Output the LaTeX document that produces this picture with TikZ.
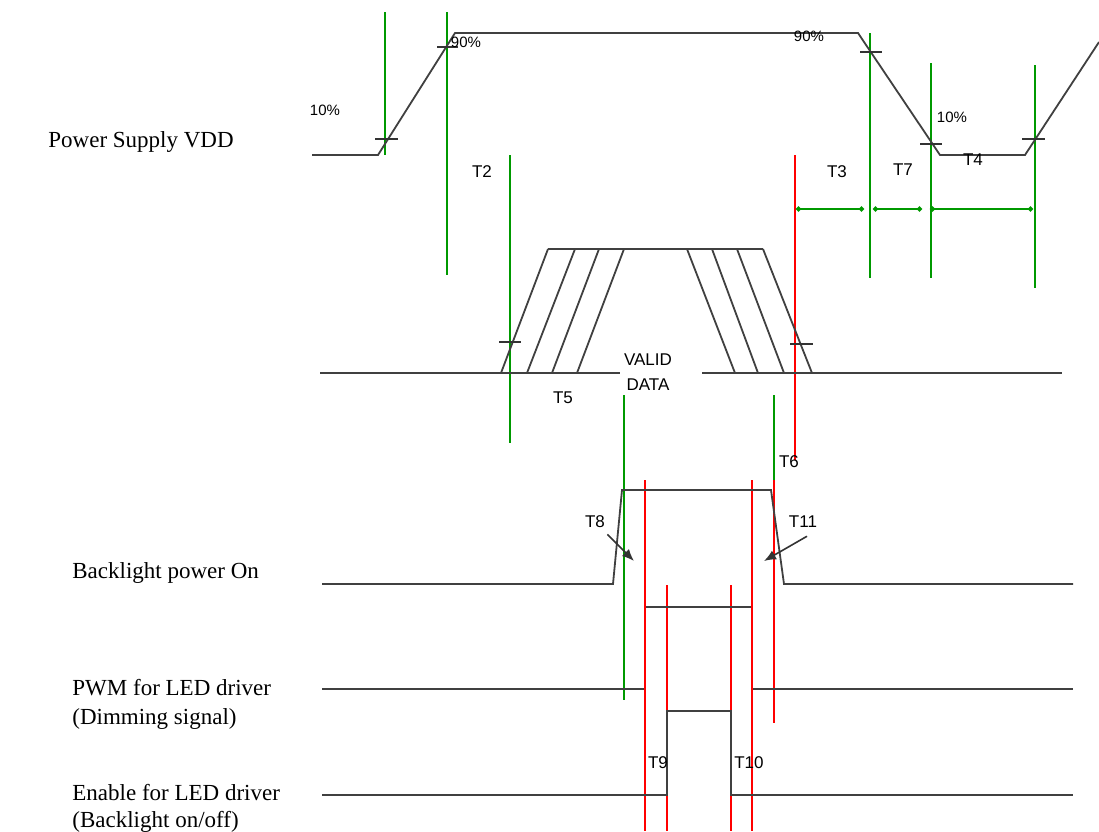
\documentclass[tikz,border=0pt]{standalone}
\usepackage{fontspec}
\setmainfont{Liberation Serif}
\setsansfont{Liberation Sans}
\usetikzlibrary{arrows.meta}

\tikzset{
	wave/.style={black!75,line width=0.9pt},
	grn/.style={green!60!black,line width=0.9pt},
	rd/.style={red,line width=0.8pt},
	tickmark/.style={black!80,line width=0.8pt},
	sig/.style={anchor=west,inner sep=0pt,font=\fontsize{11.5}{14}\selectfont},
	tlbl/.style={inner sep=0pt,font=\sffamily\fontsize{8.5}{10}\selectfont},
	pct/.style={inner sep=0pt,font=\sffamily\fontsize{7.5}{9}\selectfont}
}

\begin{document}
\begin{tikzpicture}[x=0.5pt,y=-0.5pt]

	\useasboundingbox (0,0) rectangle (1099,831);

	% signal names
	\node[sig] (vdd) at (48,142) {Power Supply VDD};
	\node[sig] (blon) at (72,573) {Backlight power On};
	\node[sig] (pwm) at (72,688) {PWM for LED driver};
	\node[sig] (pwm2) at (72,719) {(Dimming signal)};
	\node[sig] (en) at (72,793) {Enable for LED driver};
	\node[sig] (en2) at (72,822) {(Backlight on/off)};

	% green timing marks
	\draw[grn] (385,12) -- (385,155);
	\draw[grn] (447,12) -- (447,275);
	\draw[grn] (510,155) -- (510,443);
	\draw[grn] (870,33) -- (870,278);
	\draw[grn] (931,63) -- (931,278);
	\draw[grn] (1035,65) -- (1035,288);
	\draw[grn] (624,395) -- (624,700);
	\draw[grn] (774,395) -- (774,480);

	% red timing marks
	\draw[rd] (795,155) -- (795,460);
	\draw[rd] (774,480) -- (774,723);
	\draw[rd] (645,480) -- (645,831);
	\draw[rd] (667,585) -- (667,831);
	\draw[rd] (731,585) -- (731,831);
	\draw[rd] (752,480) -- (752,831);

	% power supply VDD
	\draw[wave] (312,155) -- (378,155) -- (455,33) -- (858,33) -- (940,155) -- (1025,155) -- (1099,42);
	\draw[tickmark] (375,139) -- (398,139);
	\draw[tickmark] (437,47) -- (458,47);
	\draw[tickmark] (860,52) -- (882,52);
	\draw[tickmark] (920,144) -- (942,144);
	\draw[tickmark] (1022,139) -- (1045,139);

	\node[pct] (p10a) at (325,110) {10\%};
	\node[pct] (p90a) at (466,42) {90\%};
	\node[pct] (p90b) at (809,36) {90\%};
	\node[pct] (p10b) at (952,117) {10\%};

	% T3, T7, T4
	\draw[grn,{Circle[length=2.5pt]}-{Circle[length=2.5pt]}] (796,209) -- (864,209);
	\draw[grn,{Circle[length=2.5pt]}-{Circle[length=2.5pt]}] (873,209) -- (922,209);
	\draw[grn,{Circle[length=2.5pt]}-{Circle[length=2.5pt]}] (930,209) -- (1033,209);

	\node[tlbl] (t2) at (482,172) {T2};
	\node[tlbl] (t3) at (837,172) {T3};
	\node[tlbl] (t7) at (903,170) {T7};
	\node[tlbl] (t4) at (973,160) {T4};

	% data
	\draw[wave] (320,373) -- (620,373);
	\draw[wave] (702,373) -- (1062,373);
	\draw[wave] (548,249) -- (763,249);
	\draw[wave] (501,373) -- (548,249);
	\draw[wave] (527,373) -- (575,249);
	\draw[wave] (552,373) -- (599,249);
	\draw[wave] (577,373) -- (624,249);
	\draw[wave] (687,249) -- (735,373);
	\draw[wave] (712,249) -- (758,373);
	\draw[wave] (737,249) -- (784,373);
	\draw[wave] (763,249) -- (812,373);
	\draw[tickmark] (499,342) -- (521,342);
	\draw[tickmark] (790,344) -- (813,344);

	\node[tlbl] (valid) at (648,360) {VALID};
	\node[tlbl] (data) at (648,385) {DATA};
	\node[tlbl] (t5) at (563,398) {T5};
	\node[tlbl] (t6) at (789,462) {T6};

	% backlight power on
	\draw[wave] (322,584) -- (613,584) -- (622,490) -- (771,490) -- (784,584) -- (1073,584);
	\draw[wave] (646,607) -- (751,607);

	\node[tlbl] (t8) at (595,522) {T8};
	\node[tlbl] (t11) at (803,522) {T11};
	\draw[black!80,line width=0.8pt,-{Latex[length=6pt,width=5pt]}] (t8.south east) ++(2,6) -- (634,561);
	\draw[black!80,line width=0.8pt,-{Latex[length=6pt,width=5pt]}] (t11.south) ++(4,8) -- (764,561);

	% PWM
	\draw[wave] (322,689) -- (644,689);
	\draw[wave] (753,689) -- (1073,689);

	% enable
	\draw[wave] (322,795) -- (667,795) -- (667,711) -- (731,711) -- (731,795) -- (1073,795);

	\node[tlbl] (t9) at (658,763) {T9};
	\node[tlbl] (t10) at (749,763) {T10};

\end{tikzpicture}
\end{document}
